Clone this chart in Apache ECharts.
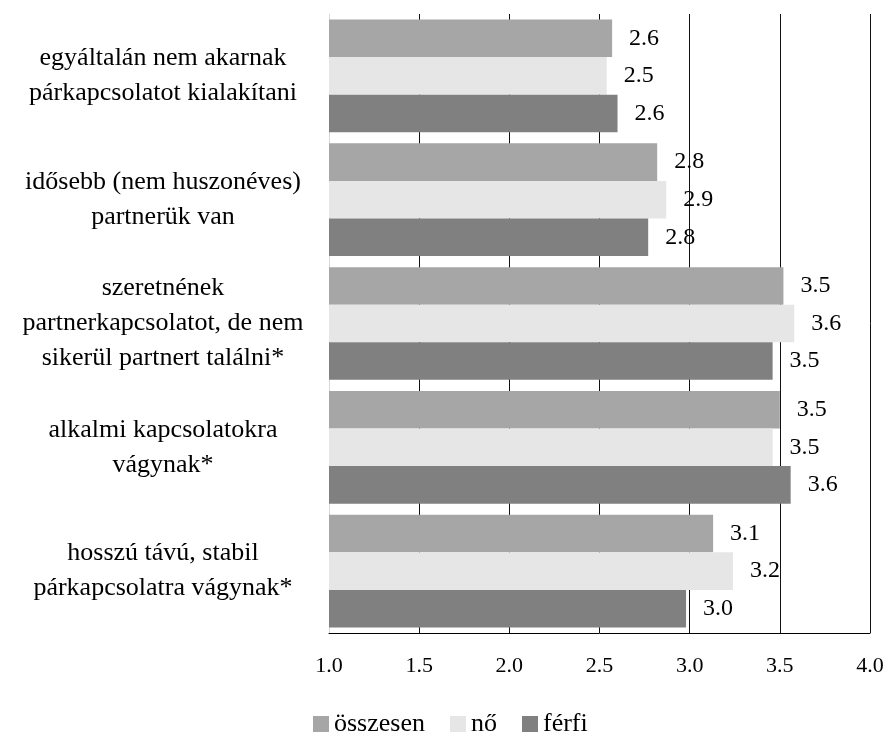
<!DOCTYPE html>
<html>
<head>
<meta charset="utf-8">
<script src="https://cdn.jsdelivr.net/npm/echarts@6/dist/echarts.min.js"></script>
<style>
html,body{margin:0;padding:0;background:#fff;}
#c{width:890px;height:737px;}
</style>
</head>
<body>
<div id="c"></div>
<script>
const categories = [
  "egyáltalán nem akarnak\npárkapcsolatot kialakítani",
  "idősebb (nem huszonéves)\npartnerük van",
  "szeretnének\npartnerkapcsolatot, de nem\nsikerül partnert találni*",
  "alkalmi kapcsolatokra\nvágynak*",
  "hosszú távú, stabil\npárkapcsolatra vágynak*"
];
const seriesNames = ["összesen", "nő", "férfi"];
const osszesen = [2.57, 2.82, 3.52, 3.50, 3.13];
const no = [2.54, 2.87, 3.58, 3.46, 3.24];
const ferfi = [2.60, 2.77, 3.46, 3.56, 2.98];
const xTicks = [1.0, 1.5, 2.0, 2.5, 3.0, 3.5, 4.0];

const FONT = "Liberation Serif";
const colors = ["#a6a6a6", "#e6e6e6", "#808080"];
const chart = echarts.init(document.getElementById('c'), null, {renderer: 'canvas'});

function mk(name, data, color) {
  return {
    name: name,
    type: 'bar',
    data: data,
    barGap: '0%',
    barCategoryGap: '9%',
    itemStyle: {color: color},
    label: {
      show: true,
      position: 'right',
      distance: 17,
      color: '#000',
      fontFamily: FONT,
      fontSize: 24,
      formatter: p => p.value.toFixed(1)
    },
    emphasis: {disabled: true}
  };
}

chart.setOption({
  backgroundColor: '#fff',
  animation: false,
  grid: {left: 329, right: 20, top: 14, bottom: 104, containLabel: false},
  legend: {
    data: seriesNames,
    left: 313,
    top: 711,
    padding: 0,
    itemWidth: 16,
    itemHeight: 16,
    itemGap: 25,
    icon: 'rect',
    textStyle: {fontFamily: FONT, fontSize: 26, color: '#000'}
  },
  xAxis: {
    type: 'value',
    min: xTicks[0],
    max: xTicks[xTicks.length - 1],
    interval: 0.5,
    axisLine: {show: true, lineStyle: {color: '#000', width: 1}},
    axisTick: {show: false},
    axisLabel: {
      margin: 22,
      fontFamily: FONT,
      fontSize: 22,
      color: '#000',
      formatter: v => v.toFixed(1)
    },
    splitLine: {show: true, showMinLine: false, lineStyle: {color: '#111', width: 1}}
  },
  yAxis: {
    type: 'category',
    data: categories,
    inverse: true,
    axisLine: {show: true, lineStyle: {color: '#d9d9d9', width: 1}},
    axisTick: {show: false},
    axisLabel: {
      margin: 166,
      align: 'center',
      fontFamily: FONT,
      fontSize: 26,
      lineHeight: 35,
      color: '#000'
    }
  },
  series: [
    mk(seriesNames[0], osszesen, colors[0]),
    mk(seriesNames[1], no, colors[1]),
    mk(seriesNames[2], ferfi, colors[2])
  ]
});
</script>
</body>
</html>
